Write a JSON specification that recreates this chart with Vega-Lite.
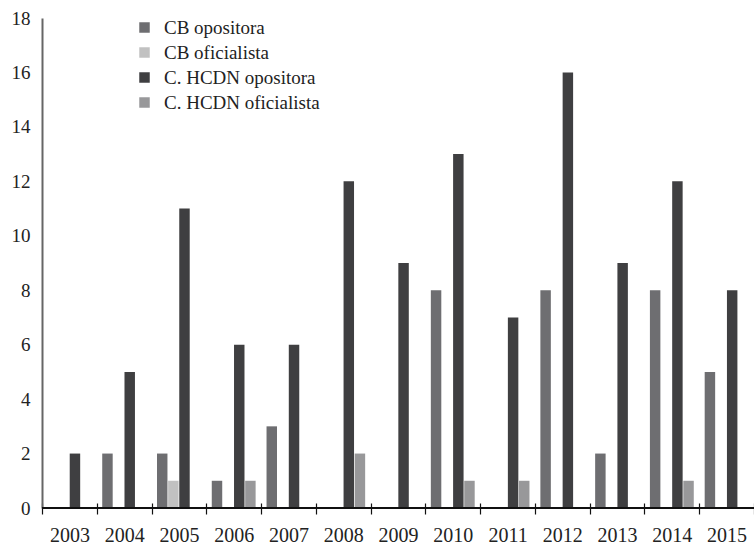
{
  "$schema": "https://vega.github.io/schema/vega-lite/v6.json",
  "width": 712,
  "height": 490,
  "autosize": {"type": "none"},
  "padding": {"left": 42, "top": 18, "right": 0, "bottom": 37},
  "background": "white",
  "config": {
    "view": {"stroke": null},
    "font": "Liberation Serif"
  },
  "data": {
    "values": [
      {"year": "2003", "serie": "C. HCDN opositora", "valor": 2},
      {"year": "2004", "serie": "CB opositora", "valor": 2},
      {"year": "2004", "serie": "C. HCDN opositora", "valor": 5},
      {"year": "2005", "serie": "CB opositora", "valor": 2},
      {"year": "2005", "serie": "CB oficialista", "valor": 1},
      {"year": "2005", "serie": "C. HCDN opositora", "valor": 11},
      {"year": "2006", "serie": "CB opositora", "valor": 1},
      {"year": "2006", "serie": "C. HCDN opositora", "valor": 6},
      {"year": "2006", "serie": "C. HCDN oficialista", "valor": 1},
      {"year": "2007", "serie": "CB opositora", "valor": 3},
      {"year": "2007", "serie": "C. HCDN opositora", "valor": 6},
      {"year": "2008", "serie": "C. HCDN opositora", "valor": 12},
      {"year": "2008", "serie": "C. HCDN oficialista", "valor": 2},
      {"year": "2009", "serie": "C. HCDN opositora", "valor": 9},
      {"year": "2010", "serie": "CB opositora", "valor": 8},
      {"year": "2010", "serie": "C. HCDN opositora", "valor": 13},
      {"year": "2010", "serie": "C. HCDN oficialista", "valor": 1},
      {"year": "2011", "serie": "C. HCDN opositora", "valor": 7},
      {"year": "2011", "serie": "C. HCDN oficialista", "valor": 1},
      {"year": "2012", "serie": "CB opositora", "valor": 8},
      {"year": "2012", "serie": "C. HCDN opositora", "valor": 16},
      {"year": "2013", "serie": "CB opositora", "valor": 2},
      {"year": "2013", "serie": "C. HCDN opositora", "valor": 9},
      {"year": "2014", "serie": "CB opositora", "valor": 8},
      {"year": "2014", "serie": "C. HCDN opositora", "valor": 12},
      {"year": "2014", "serie": "C. HCDN oficialista", "valor": 1},
      {"year": "2015", "serie": "CB opositora", "valor": 5},
      {"year": "2015", "serie": "C. HCDN opositora", "valor": 8}
    ]
  },
  "layer": [
    {
      "mark": {"type": "bar"},
      "encoding": {
        "x": {
          "field": "year",
          "type": "ordinal",
          "scale": {
            "domain": ["2003","2004","2005","2006","2007","2008","2009","2010","2011","2012","2013","2014","2015"],
            "paddingInner": 0,
            "paddingOuter": 0
          },
          "axis": {
            "title": null,
            "labelAngle": 0,
            "labelFontSize": 20,
            "labelColor": "#222222",
            "labelPadding": 11,
            "domain": false,
            "offset": -5,
            "tickColor": "#111111",
            "tickWidth": 1.2,
            "tickSize": 11,
            "tickBand": "extent"
          }
        },
        "xOffset": {
          "field": "serie",
          "type": "nominal",
          "scale": {
            "domain": ["CB opositora", "CB oficialista", "C. HCDN opositora", "C. HCDN oficialista"],
            "paddingInner": 0.06,
            "paddingOuter": 0.49
          }
        },
        "y": {
          "field": "valor",
          "type": "quantitative",
          "scale": {"domain": [0, 18], "nice": false},
          "axis": {
            "title": null,
            "values": [0,2,4,6,8,10,12,14,16,18],
            "grid": false,
            "ticks": false,
            "labelFontSize": 19,
            "labelColor": "#222222",
            "labelPadding": 12,
            "domainColor": "#666666",
            "domainWidth": 2
          }
        },
        "color": {
          "field": "serie",
          "type": "nominal",
          "scale": {
            "domain": ["CB opositora", "CB oficialista", "C. HCDN opositora", "C. HCDN oficialista"],
            "range": ["#6e6e71", "#c1c1c1", "#3f3f41", "#98989a"]
          },
          "legend": {
            "title": null,
            "orient": "none",
            "legendX": 93,
            "legendY": 0,
            "symbolType": "square",
            "symbolSize": 110,
            "symbolStrokeWidth": 0,
            "labelFontSize": 19,
            "labelColor": "#222222",
            "labelOffset": 10,
            "rowPadding": 5
          }
        }
      }
    },
    {
      "mark": {"type": "rule", "color": "#111111", "strokeWidth": 1.5},
      "encoding": {
        "y": {"datum": 0}
      }
    }
  ]
}
